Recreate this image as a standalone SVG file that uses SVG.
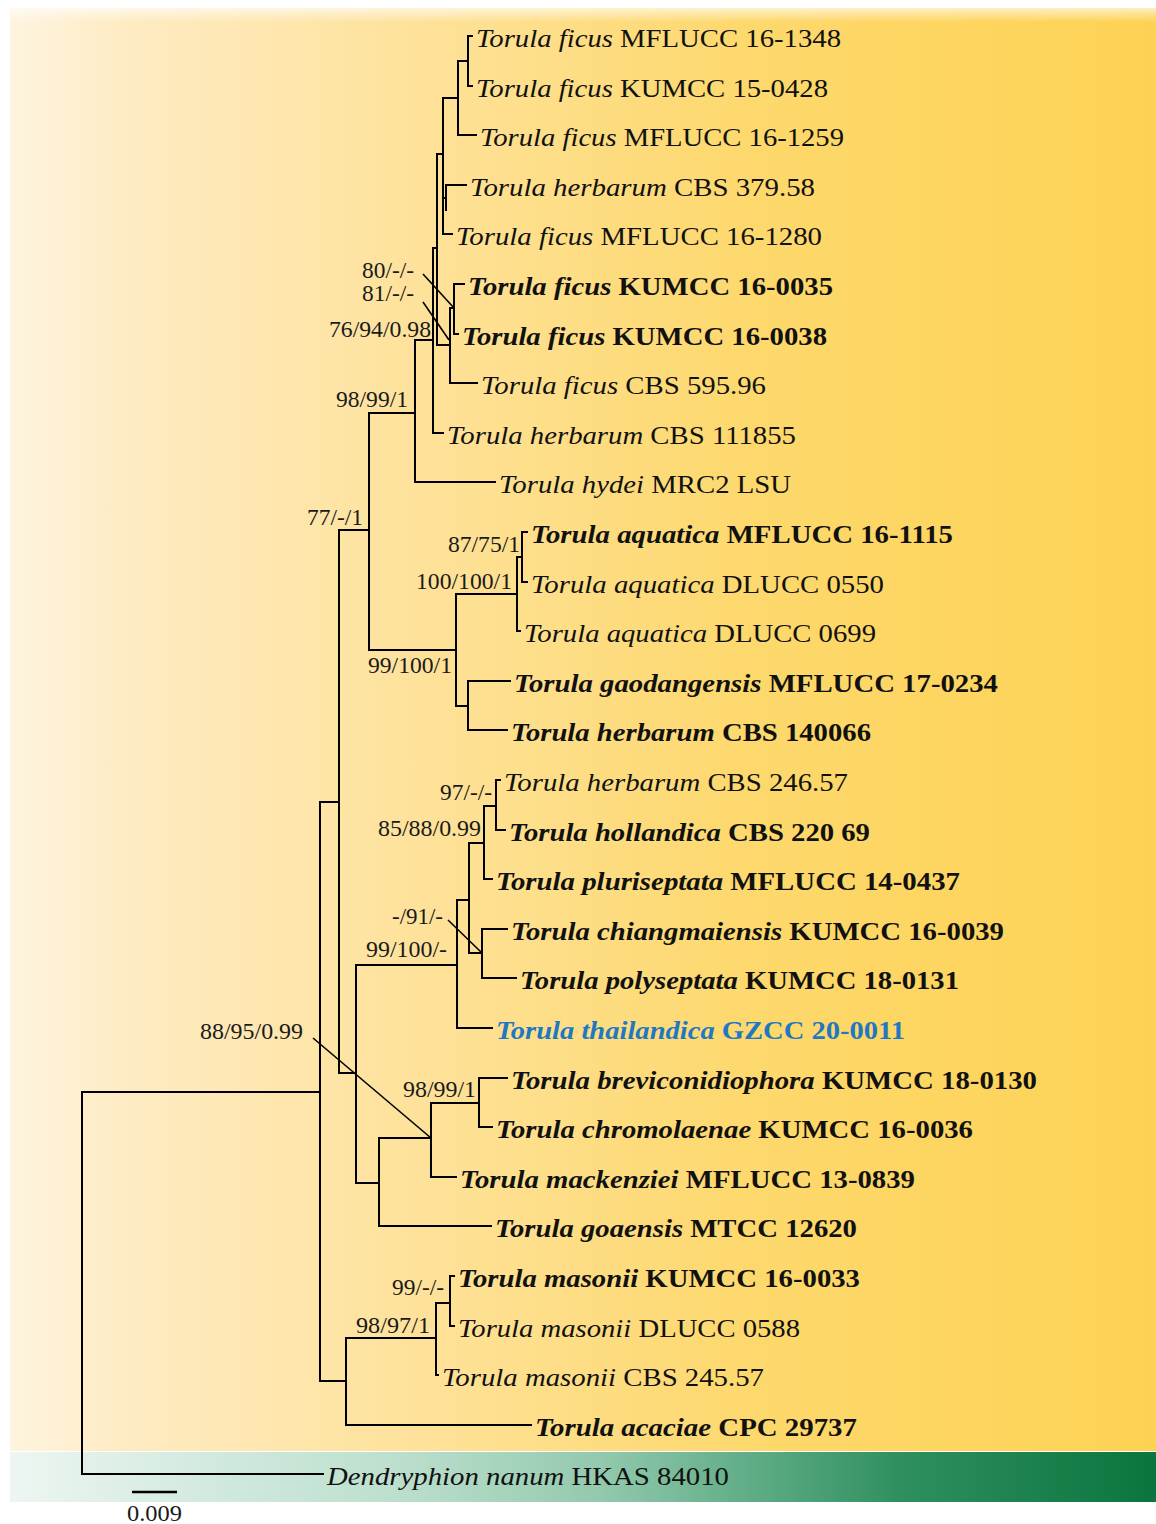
<svg xmlns="http://www.w3.org/2000/svg" width="1156" height="1524" viewBox="0 0 1156 1524">
<defs>
<linearGradient id="gy" x1="0" y1="0" x2="1" y2="0">
<stop offset="0" stop-color="#FEF4DF"/>
<stop offset="0.1" stop-color="#FEEBC3"/>
<stop offset="0.35" stop-color="#FEE29B"/>
<stop offset="0.65" stop-color="#FDD86C"/>
<stop offset="1" stop-color="#FDD254"/>
</linearGradient>
<linearGradient id="gt" x1="0" y1="0" x2="1" y2="0">
<stop offset="0" stop-color="#EDF6F2"/>
<stop offset="0.166" stop-color="#D3EADF"/>
<stop offset="0.34" stop-color="#BCDFCD"/>
<stop offset="0.515" stop-color="#93C9AE"/>
<stop offset="0.646" stop-color="#5FAD86"/>
<stop offset="0.777" stop-color="#2F8F5F"/>
<stop offset="1" stop-color="#0A753F"/>
</linearGradient>
<linearGradient id="gtop" x1="0" y1="0" x2="0" y2="1">
<stop offset="0" stop-color="#FFFFFF" stop-opacity="1"/>
<stop offset="1" stop-color="#FFFFFF" stop-opacity="0"/>
</linearGradient>
<style>
.br{fill:none;stroke:#000;stroke-width:2;stroke-linecap:square}
.pt{fill:none;stroke:#000;stroke-width:1.6}
.lf{font-family:"Liberation Serif","Times New Roman",serif;font-size:25px;fill:#111}
.bd{font-weight:bold}
.it{font-style:italic}
.sp{font-family:"Liberation Serif","Times New Roman",serif;font-size:23px;fill:#1a1a1a}
.blue{fill:#1F78C1}
</style>
</defs>
<rect x="0" y="0" width="1156" height="1524" fill="#FFFFFF"/>
<rect x="10" y="8" width="1146" height="1443" fill="url(#gy)"/>
<rect x="0" y="0" width="1156" height="22" fill="url(#gtop)"/>
<rect x="10" y="1452" width="1146" height="50" fill="url(#gt)"/>

<g id="connectors">
<path class="br" d="M468 36V86M468 36H472M468 86H472
M458 61V135M458 61H468M458 135H476
M443 98V234M443 98H458M443 234H452
M446 185V210M443 198H446M446 185H466
M437 154V345M437 154H443
M454 284V334M454 284H464M454 334H458
M450 308V383M450 308H454M450 383H477M437 345H450
M433 248V433M433 248H437M433 433H443
M415 340V482M415 340H433M415 482H495
M369 413H415
M369 413V650M339 530H369
M456 594V706M369 650H456
M517 557V631M456 594H517M517 631H520
M522 532V582M517 557H522M522 532H527M522 582H527
M468 681V730M456 706H468M468 681H510M468 730H507
M339 530V1073M320 802H339
M356 965V1183M339 1073H356
M457 900V1028M356 965H457M457 1028H492
M469 843V953M457 900H469
M484 806V879M469 843H484M484 879H492
M496 780V830M484 806H496M496 780H500M496 830H505
M482 929V978M469 953H482M482 929H507M482 978H516
M379 1138V1226M356 1183H379M379 1226H491
M431 1103V1177M379 1138H431M431 1177H456
M479 1078V1127M431 1103H479M479 1078H507M479 1127H492
M320 802V1381M82 1092H320
M346 1338V1425M320 1381H346M346 1425H531
M436 1303V1375M346 1338H436M436 1375H438
M450 1276V1326M436 1303H450M450 1276H454M450 1326H454
M82 1092V1474H323"/>
<path class="pt" d="M423 274L454 308M423 302L449 340M448 920L482 953M313 1038L431 1138"/>
<path class="br" d="M132 1492H177" style="stroke-width:2.5;stroke-linecap:butt"/>
</g>

<g id="support">
<text class="sp" x="362" y="278" textLength="52" lengthAdjust="spacingAndGlyphs">80/-/-</text>
<text class="sp" x="362" y="301" textLength="52" lengthAdjust="spacingAndGlyphs">81/-/-</text>
<text class="sp" x="329" y="337" textLength="102" lengthAdjust="spacingAndGlyphs">76/94/0.98</text>
<text class="sp" x="336" y="407" textLength="72" lengthAdjust="spacingAndGlyphs">98/99/1</text>
<text class="sp" x="307" y="525" textLength="56" lengthAdjust="spacingAndGlyphs">77/-/1</text>
<text class="sp" x="448" y="552" textLength="72" lengthAdjust="spacingAndGlyphs">87/75/1</text>
<text class="sp" x="416" y="589" textLength="96" lengthAdjust="spacingAndGlyphs">100/100/1</text>
<text class="sp" x="368" y="673" textLength="84" lengthAdjust="spacingAndGlyphs">99/100/1</text>
<text class="sp" x="440" y="800" textLength="52" lengthAdjust="spacingAndGlyphs">97/-/-</text>
<text class="sp" x="378" y="836" textLength="103" lengthAdjust="spacingAndGlyphs">85/88/0.99</text>
<text class="sp" x="392" y="924" textLength="51" lengthAdjust="spacingAndGlyphs">-/91/-</text>
<text class="sp" x="366" y="957" textLength="81" lengthAdjust="spacingAndGlyphs">99/100/-</text>
<text class="sp" x="200" y="1039" textLength="103" lengthAdjust="spacingAndGlyphs">88/95/0.99</text>
<text class="sp" x="403" y="1097" textLength="73" lengthAdjust="spacingAndGlyphs">98/99/1</text>
<text class="sp" x="392" y="1295" textLength="52" lengthAdjust="spacingAndGlyphs">99/-/-</text>
<text class="sp" x="356" y="1333" textLength="74" lengthAdjust="spacingAndGlyphs">98/97/1</text>
<text class="sp" x="127" y="1521" textLength="55" lengthAdjust="spacingAndGlyphs">0.009</text>
</g>

<g id="t01"><text class="lf" x="476" y="47" textLength="365" lengthAdjust="spacingAndGlyphs"><tspan class="it">Torula ficus</tspan> MFLUCC 16-1348</text></g>
<g id="t02"><text class="lf" x="476" y="97" textLength="352" lengthAdjust="spacingAndGlyphs"><tspan class="it">Torula ficus</tspan> KUMCC 15-0428</text></g>
<g id="t03"><text class="lf" x="480" y="146" textLength="364" lengthAdjust="spacingAndGlyphs"><tspan class="it">Torula ficus</tspan> MFLUCC 16-1259</text></g>
<g id="t04"><text class="lf" x="470" y="196" textLength="345" lengthAdjust="spacingAndGlyphs"><tspan class="it">Torula herbarum</tspan> CBS 379.58</text></g>
<g id="t05"><text class="lf" x="456" y="245" textLength="366" lengthAdjust="spacingAndGlyphs"><tspan class="it">Torula ficus</tspan> MFLUCC 16-1280</text></g>
<g id="t06"><text class="lf bd" x="468" y="295" textLength="365" lengthAdjust="spacingAndGlyphs"><tspan class="it">Torula ficus</tspan> KUMCC 16-0035</text></g>
<g id="t07"><text class="lf bd" x="462" y="345" textLength="365" lengthAdjust="spacingAndGlyphs"><tspan class="it">Torula ficus</tspan> KUMCC 16-0038</text></g>
<g id="t08"><text class="lf" x="481" y="394" textLength="285" lengthAdjust="spacingAndGlyphs"><tspan class="it">Torula ficus</tspan> CBS 595.96</text></g>
<g id="t09"><text class="lf" x="447" y="444" textLength="349" lengthAdjust="spacingAndGlyphs"><tspan class="it">Torula herbarum</tspan> CBS 111855</text></g>
<g id="t10"><text class="lf" x="499" y="493" textLength="292" lengthAdjust="spacingAndGlyphs"><tspan class="it">Torula hydei</tspan> MRC2 LSU</text></g>
<g id="t11"><text class="lf bd" x="531" y="543" textLength="422" lengthAdjust="spacingAndGlyphs"><tspan class="it">Torula aquatica</tspan> MFLUCC 16-1115</text></g>
<g id="t12"><text class="lf" x="531" y="593" textLength="353" lengthAdjust="spacingAndGlyphs"><tspan class="it">Torula aquatica</tspan> DLUCC 0550</text></g>
<g id="t13"><text class="lf" x="524" y="642" textLength="352" lengthAdjust="spacingAndGlyphs"><tspan class="it">Torula aquatica</tspan> DLUCC 0699</text></g>
<g id="t14"><text class="lf bd" x="514" y="692" textLength="484" lengthAdjust="spacingAndGlyphs"><tspan class="it">Torula gaodangensis</tspan> MFLUCC 17-0234</text></g>
<g id="t15"><text class="lf bd" x="511" y="741" textLength="360" lengthAdjust="spacingAndGlyphs"><tspan class="it">Torula herbarum</tspan> CBS 140066</text></g>
<g id="t16"><text class="lf" x="504" y="791" textLength="344" lengthAdjust="spacingAndGlyphs"><tspan class="it">Torula herbarum</tspan> CBS 246.57</text></g>
<g id="t17"><text class="lf bd" x="509" y="841" textLength="361" lengthAdjust="spacingAndGlyphs"><tspan class="it">Torula hollandica</tspan> CBS 220 69</text></g>
<g id="t18"><text class="lf bd" x="496" y="890" textLength="464" lengthAdjust="spacingAndGlyphs"><tspan class="it">Torula pluriseptata</tspan> MFLUCC 14-0437</text></g>
<g id="t19"><text class="lf bd" x="511" y="940" textLength="493" lengthAdjust="spacingAndGlyphs"><tspan class="it">Torula chiangmaiensis</tspan> KUMCC 16-0039</text></g>
<g id="t20"><text class="lf bd" x="520" y="989" textLength="439" lengthAdjust="spacingAndGlyphs"><tspan class="it">Torula polyseptata</tspan> KUMCC 18-0131</text></g>
<g id="t21"><text class="lf bd blue" x="496" y="1039" textLength="409" lengthAdjust="spacingAndGlyphs"><tspan class="it">Torula thailandica</tspan> GZCC 20-0011</text></g>
<g id="t22"><text class="lf bd" x="511" y="1089" textLength="526" lengthAdjust="spacingAndGlyphs"><tspan class="it">Torula breviconidiophora</tspan> KUMCC 18-0130</text></g>
<g id="t23"><text class="lf bd" x="496" y="1138" textLength="477" lengthAdjust="spacingAndGlyphs"><tspan class="it">Torula chromolaenae</tspan> KUMCC 16-0036</text></g>
<g id="t24"><text class="lf bd" x="460" y="1188" textLength="455" lengthAdjust="spacingAndGlyphs"><tspan class="it">Torula mackenziei</tspan> MFLUCC 13-0839</text></g>
<g id="t25"><text class="lf bd" x="495" y="1237" textLength="362" lengthAdjust="spacingAndGlyphs"><tspan class="it">Torula goaensis</tspan> MTCC 12620</text></g>
<g id="t26"><text class="lf bd" x="458" y="1287" textLength="402" lengthAdjust="spacingAndGlyphs"><tspan class="it">Torula masonii</tspan> KUMCC 16-0033</text></g>
<g id="t27"><text class="lf" x="458" y="1337" textLength="342" lengthAdjust="spacingAndGlyphs"><tspan class="it">Torula masonii</tspan> DLUCC 0588</text></g>
<g id="t28"><text class="lf" x="442" y="1386" textLength="322" lengthAdjust="spacingAndGlyphs"><tspan class="it">Torula masonii</tspan> CBS 245.57</text></g>
<g id="t29"><text class="lf bd" x="535" y="1436" textLength="322" lengthAdjust="spacingAndGlyphs"><tspan class="it">Torula acaciae</tspan> CPC 29737</text></g>
<g id="t30"><text class="lf" x="327" y="1485" textLength="402" lengthAdjust="spacingAndGlyphs"><tspan class="it">Dendryphion nanum</tspan> HKAS 84010</text></g>
</svg>
